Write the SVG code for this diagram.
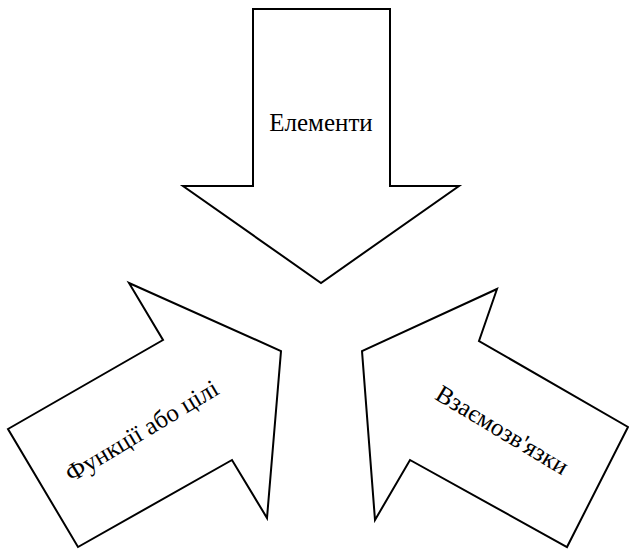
<svg xmlns="http://www.w3.org/2000/svg" width="629" height="549" viewBox="0 0 629 549">
<style>
.arrow{fill:#fff;stroke:#000;stroke-width:2;stroke-linejoin:miter}
.lbl{font-family:"Liberation Serif","Times New Roman",serif;font-size:25px;fill:#000;text-anchor:middle}
</style>
<rect width="629" height="549" fill="#fff"/>
<g id="elements">
<polygon class="arrow" points="253,9 390,9 390,186 459,186 321,283 183,186 253,186"/>
<text class="lbl" x="321" y="131">Елементи</text>
</g>
<g id="functions">
<polygon class="arrow" points="129,283 281,351 267,518 232,460 78,547 8,429 163,340"/>
<text class="lbl" transform="translate(146,438) rotate(-31)">Функції або цілі</text>
</g>
<g id="relations">
<polygon class="arrow" points="497,289 479,341 628,427 567,547 410,460 375,520 362,351"/>
<text class="lbl" transform="translate(498,437) rotate(31)">Взаємозв'язки</text>
</g>
<g id="connectors"></g>
</svg>
